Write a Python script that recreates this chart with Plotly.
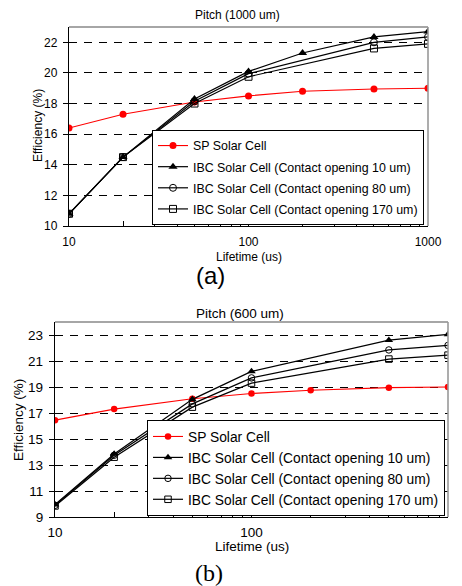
import plotly.graph_objects as go

# ---------------- data ----------------
lifetime = [10, 20, 50, 100, 200, 500, 1000]
lifetime_ibc_a = [10, 20, 50, 100, 200, 500, 1000]
lifetime_ibc_a2 = [10, 20, 50, 100, 500, 1000]
lifetime_ibc_b = [10, 20, 50, 100, 500, 1000]

sp_a = [16.4, 17.3, 18.1, 18.5, 18.8, 18.95, 19.0]
ibc10_a = [10.8, 14.5, 18.3, 20.1, 21.3, 22.35, 22.7]
ibc80_a = [10.8, 14.5, 18.15, 19.95, 22.0, 22.35]
ibc170_a = [10.8, 14.5, 18.0, 19.75, 21.6, 21.9]

sp_b = [16.45, 17.3, 18.1, 18.5, 18.75, 18.95, 19.0]
ibc10_b = [9.95, 13.85, 18.05, 20.2, 22.6, 23.05]
ibc80_b = [9.9, 13.75, 17.7, 19.7, 21.85, 22.2]
ibc170_b = [9.85, 13.6, 17.45, 19.3, 21.15, 21.45]

names = ["SP Solar Cell",
         "IBC Solar Cell (Contact opening 10 um)",
         "IBC Solar Cell (Contact opening 80 um)",
         "IBC Solar Cell (Contact opening 170 um)"]

x_tickvals = [10, 20, 30, 40, 50, 60, 70, 80, 90, 100, 200, 300, 400, 500, 600, 700, 800, 900, 1000]
x_ticktext = ["10", "", "", "", "", "", "", "", "", "100", "", "", "", "", "", "", "", "", "1000"]
y_ticks_a = [10, 12, 14, 16, 18, 20, 22]
y_ticks_b = [9, 11, 13, 15, 17, 19, 21, 23]

titles = ["Pitch (1000 um)", "Pitch (600 um)"]
x_title = "Lifetime (us)"
y_title = "Efficiency (%)"
panel_labels = ["(a)", "(b)"]

# ---------------- geometry ----------------
# the page body has an 8px margin, so the figure starts at (8, 8) in the window
OFF = 8
W, H = 462 - OFF, 586 - OFF
FONT = "Liberation Sans, Arial, sans-serif"

def px(x):
    return (x - OFF) / W

def py(y):
    return 1 - (y - OFF) / H

fig = go.Figure()

def add_panel(xs_sp, sp, xs10, s10, xs_other, s80, s170, xa, ya, leg, msize, tag):
    fig.add_trace(go.Scatter(x=xs_sp, y=sp, name=names[0], mode="lines+markers",
                             line=dict(color="#ff0000", width=1.1),
                             marker=dict(symbol="circle", size=msize, color="#ff0000"),
                             xaxis=xa, yaxis=ya, legend=leg, legendgroup=tag + "0"))
    fig.add_trace(go.Scatter(x=xs10, y=s10, name=names[1], mode="lines+markers",
                             line=dict(color="black", width=1.2),
                             marker=dict(symbol="triangle-up", size=msize + 1, color="black"),
                             xaxis=xa, yaxis=ya, legend=leg, legendgroup=tag + "1"))
    fig.add_trace(go.Scatter(x=xs_other, y=s80, name=names[2], mode="lines+markers",
                             line=dict(color="black", width=1.2),
                             marker=dict(symbol="circle-open", size=msize, color="black",
                                         line=dict(width=1, color="black")),
                             xaxis=xa, yaxis=ya, legend=leg, legendgroup=tag + "2"))
    fig.add_trace(go.Scatter(x=xs_other, y=s170, name=names[3], mode="lines+markers",
                             line=dict(color="black", width=1.2),
                             marker=dict(symbol="square-open", size=msize, color="black",
                                         line=dict(width=1, color="black")),
                             xaxis=xa, yaxis=ya, legend=leg, legendgroup=tag + "3"))

add_panel(lifetime, sp_a, lifetime_ibc_a, ibc10_a, lifetime_ibc_a2, ibc80_a, ibc170_a,
          "x", "y", "legend", 7, "a")
add_panel(lifetime, sp_b, lifetime_ibc_b, ibc10_b, lifetime_ibc_b, ibc80_b, ibc170_b,
          "x2", "y2", "legend2", 6.5, "b")

# panel boxes (window pixels)
A = dict(l=69, r=428, t=27, b=226, fs=12)
B = dict(l=55, r=448, t=322, b=517, fs=13.5)

def xaxis_cfg(P, anchor, standoff):
    return dict(domain=[px(P["l"]), px(P["r"])], anchor=anchor, type="log",
                range=[1, 3], tickvals=x_tickvals, ticktext=x_ticktext,
                ticks="inside", ticklen=5, tickcolor="black", tickwidth=1,
                showline=True, linecolor="black", linewidth=1.3,
                showgrid=False, zeroline=False, automargin=False,
                tickfont=dict(family=FONT, size=P["fs"], color="black"),
                ticklabelstandoff=standoff)

def yaxis_cfg(P, anchor, rng, ticks):
    return dict(domain=[py(P["b"]), py(P["t"])], anchor=anchor, range=rng,
                tickvals=ticks, ticks="outside", ticklen=5, tickcolor="black",
                showline=True, linecolor="black", linewidth=1.3,
                showgrid=True, gridcolor="black", gridwidth=1, griddash="8px,7px",
                zeroline=False, automargin=False,
                tickfont=dict(family=FONT, size=P["fs"], color="black"),
                ticklabelstandoff=3)

fig.update_layout(
    width=W, height=H,
    margin=dict(l=0, r=0, t=0, b=0, autoexpand=False),
    paper_bgcolor="white", plot_bgcolor="white",
    xaxis=xaxis_cfg(A, "y", 4),
    yaxis=yaxis_cfg(A, "x", [10, 23], y_ticks_a),
    xaxis2=xaxis_cfg(B, "y2", 3),
    yaxis2=yaxis_cfg(B, "x2", [9, 24], y_ticks_b),
    legend=dict(x=px(152), y=py(130), xanchor="left", yanchor="top",
                bgcolor="white", bordercolor="black", borderwidth=1,
                font=dict(family=FONT, size=12.4, color="black"), tracegroupgap=2),
    legend2=dict(x=px(147), y=py(420), xanchor="left", yanchor="top",
                 bgcolor="white", bordercolor="black", borderwidth=1,
                 font=dict(family=FONT, size=13.8, color="black"), tracegroupgap=0),
    showlegend=True,
)

# gray top and right frame
for xr, yr in (("x domain", "y domain"), ("x2 domain", "y2 domain")):
    fig.add_shape(type="line", xref=xr, yref=yr, x0=0, x1=1, y0=1, y1=1,
                  line=dict(color="#888888", width=1.3))
    fig.add_shape(type="line", xref=xr, yref=yr, x0=1, x1=1, y0=0, y1=1,
                  line=dict(color="#999999", width=1.6))

def ann(text, x, y, size, family=FONT, angle=0):
    fig.add_annotation(text=text, xref="paper", yref="paper", x=px(x), y=py(y),
                       xanchor="center", yanchor="middle", showarrow=False,
                       textangle=angle, font=dict(family=family, size=size, color="black"))

ann(titles[0], 237, 15, 12)
ann(titles[1], 240, 313, 13.5)
ann(x_title, 249, 257, 12)
ann(x_title, 252, 546, 13.5)
ann(y_title, 38, 126, 12, angle=-90)
ann(y_title, 18, 420, 13.5, angle=-90)
ann(panel_labels[0], 210, 275, 24)
ann(panel_labels[1], 209, 573, 24, family="Liberation Serif, Times New Roman, serif")

fig.write_html("out.html")
